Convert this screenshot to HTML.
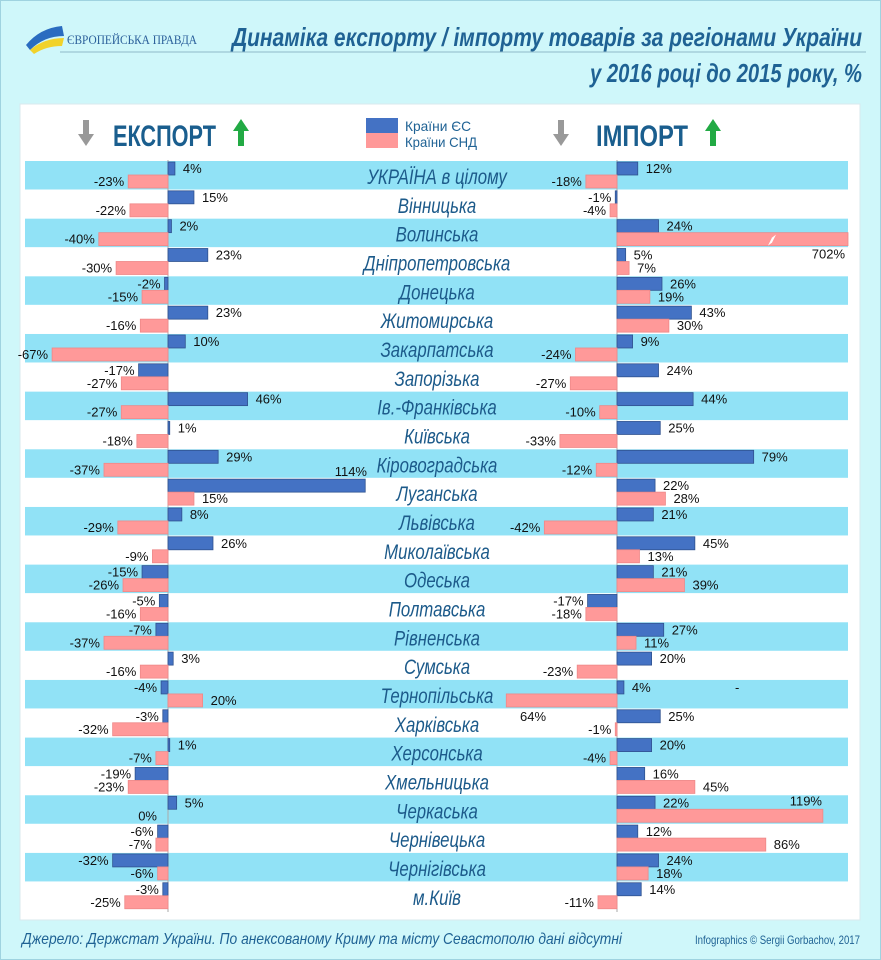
<!DOCTYPE html>
<html><head><meta charset="utf-8"><style>
html,body{margin:0;padding:0;background:#cff7fa;}
svg{display:block;font-family:"Liberation Sans",sans-serif;}
</style></head><body>
<svg id="s" width="881" height="960" viewBox="0 0 881 960" xmlns="http://www.w3.org/2000/svg">
<rect x="0.5" y="0.5" width="880" height="959" fill="#cff7fa" stroke="#9fd3e0"/>
<rect x="20" y="104" width="840" height="816" fill="#fff" stroke="#d8e8ee"/>
<path d="M26 45 Q40 28 62 26 L64 36 Q44 36 30 50 Z" fill="#2a6cc0"/>
<path d="M30 50 Q44 38 64 38 L62 46 Q46 46 34 54 Z" fill="#f1d22a"/>
<text x="67" y="44" font-family="Liberation Serif,serif" font-size="13" fill="#2a5f9a" textLength="130" lengthAdjust="spacingAndGlyphs">ЄВРОПЕЙСЬКА ПРАВДА</text>
<text x="862" y="46" text-anchor="end" font-size="26" font-weight="bold" font-style="italic" fill="#1f6294" textLength="630" lengthAdjust="spacingAndGlyphs">Динаміка експорту / імпорту товарів за регіонами України</text>
<line x1="60" y1="52" x2="866" y2="52" stroke="#8fb8c8" stroke-width="1"/>
<text x="862" y="82" text-anchor="end" font-size="26" font-weight="bold" font-style="italic" fill="#1f6294" textLength="272" lengthAdjust="spacingAndGlyphs">у  2016 році  до  2015 року, %</text>
<g id="arrows"></g>
<text x="113" y="146" font-size="30" font-weight="bold" fill="#1a5e8e" textLength="103" lengthAdjust="spacingAndGlyphs">ЕКСПОРТ</text>
<text x="596" y="146" font-size="30" font-weight="bold" fill="#1a5e8e" textLength="92" lengthAdjust="spacingAndGlyphs">ІМПОРТ</text>
<rect x="366" y="118" width="32" height="15" fill="#4472c4"/>
<rect x="366" y="133" width="32" height="15" fill="#ff9999"/>
<text x="405" y="131" font-size="14" fill="#1f6294" textLength="66" lengthAdjust="spacingAndGlyphs">Країни ЄС</text>
<text x="405" y="147" font-size="14" fill="#1f6294" textLength="72" lengthAdjust="spacingAndGlyphs">Країни СНД</text>
<g id="rows"></g>
<text x="22" y="944" font-size="16" font-style="italic" fill="#1f6294" textLength="600" lengthAdjust="spacingAndGlyphs">Джерело: Держстат України.  По анексованому Криму та місту Севастополю дані відсутні</text>
<text x="860" y="944" text-anchor="end" font-size="12" fill="#1f6294" textLength="165" lengthAdjust="spacingAndGlyphs">Infographics © Sergii Gorbachov, 2017</text>
</svg>
<script>
const NS="http://www.w3.org/2000/svg";
function el(p,t,a,txt){const e=document.createElementNS(NS,t);for(const k in a)e.setAttribute(k,a[k]);if(txt!=null)e.textContent=txt;p.appendChild(e);return e;}
const ar=document.getElementById('arrows');
function arrow(x,up,c){
  if(up){el(ar,'polygon',{points:`${x-8},131 ${x},119 ${x+8},131 ${x+3},131 ${x+3},146 ${x-3},146 ${x-3},131`,fill:c});}
  else{el(ar,'polygon',{points:`${x-3},120 ${x+3},120 ${x+3},134 ${x+8},134 ${x},146 ${x-8},134 ${x-3},134`,fill:c});}
}
arrow(86,false,'#999');arrow(241,true,'#22aa44');arrow(561,false,'#999');arrow(713,true,'#22aa44');
const rows=[
["УКРАЇНА в цілому",4,-23,12,-18],["Вінницька",15,-22,-1,-4],["Волинська",2,-40,24,702],
["Дніпропетровська",23,-30,5,7],["Донецька",-2,-15,26,19],["Житомирська",23,-16,43,30],
["Закарпатська",10,-67,9,-24],["Запорізька",-17,-27,24,-27],["Ів.-Франківська",46,-27,44,-10],
["Київська",1,-18,25,-33],["Кіровоградська",29,-37,79,-12],["Луганська",114,15,22,28],
["Львівська",8,-29,21,-42],["Миколаївська",26,-9,45,13],["Одеська",-15,-26,21,39],
["Полтавська",-5,-16,-17,-18],["Рівненська",-7,-37,27,11],["Сумська",3,-16,20,-23],
["Тернопільська",-4,20,4,-64],["Харківська",-3,-32,25,-1],["Херсонська",1,-7,20,-4],
["Хмельницька",-19,-23,16,45],["Черкаська",5,0,22,119],["Чернівецька",-6,-7,12,86],
["Чернігівська",-32,-6,24,18],["м.Київ",-3,-25,14,-11]];
const g=document.getElementById('rows');
const S=1.73,EA=168,IA=617;
rows.forEach((r,i)=>{const t=161+i*28.83;if(i%2==0)el(g,'rect',{x:25,y:t,width:823,height:28.5,fill:'#91e2f6'});});
el(g,'line',{x1:EA,y1:160,x2:EA,y2:912,stroke:'#aaa','stroke-width':1});
el(g,'line',{x1:IA,y1:160,x2:IA,y2:912,stroke:'#aaa','stroke-width':1});
function bar(ax,v,y,col,str,lab,special){
  let w=Math.abs(v)*S,x=v>=0?ax:ax-w;
  if(x+w>848)w=848-x;
  if(w>0)el(g,'rect',{x:x,y:y,width:w,height:13,fill:col,stroke:str,'stroke-width':0.8});
  if(special)return;
  if(v>0)el(g,'text',{x:x+w+8,y:y+11,'font-size':13,fill:'#111'},lab);
  else el(g,'text',{x:x-4-(v==0?7:0),y:y+11,'font-size':13,fill:'#111','text-anchor':'end'},lab);
}
rows.forEach((r,i)=>{
  const t=161+i*28.83;
  const B='#4472c4',BS='#2f528f',P='#ff9999',PS='#e88';
  bar(EA,r[1],t+1,B,BS,r[1]+'%',i==11);
  bar(EA,r[2],t+14,P,PS,r[2]+'%');
  bar(IA,r[3],t+1,B,BS,r[3]+'%');
  bar(IA,r[4],t+14,P,PS,r[4]+'%',i==2||i==18||i==22);
  const tg=el(g,'g',{transform:`translate(437,${t+23}) scale(0.8,1)`});
  el(tg,'text',{x:0,y:0,'font-size':21,'font-style':'italic',fill:'#1c5a8a','text-anchor':'middle'},r[0]);
});
function T(x,y,s,a){el(g,'text',{x:x,y:y,'font-size':13,fill:'#111','text-anchor':a||'start'},s);}
let t11=161+11*28.83; T(367,t11-2,'114%','end');
let t2=161+2*28.83; T(845,t2+40,'702%','end');
el(g,'polygon',{points:`768,${t2+27} 772,${t2+19} 776,${t2+16} 772,${t2+24}`,fill:'#fff'});
let t18=161+18*28.83; T(520,t18+41,'64%'); T(735,t18+12,'-');
let t22=161+22*28.83; T(822,t22+10,'119%','end');
</script>
</body></html>
